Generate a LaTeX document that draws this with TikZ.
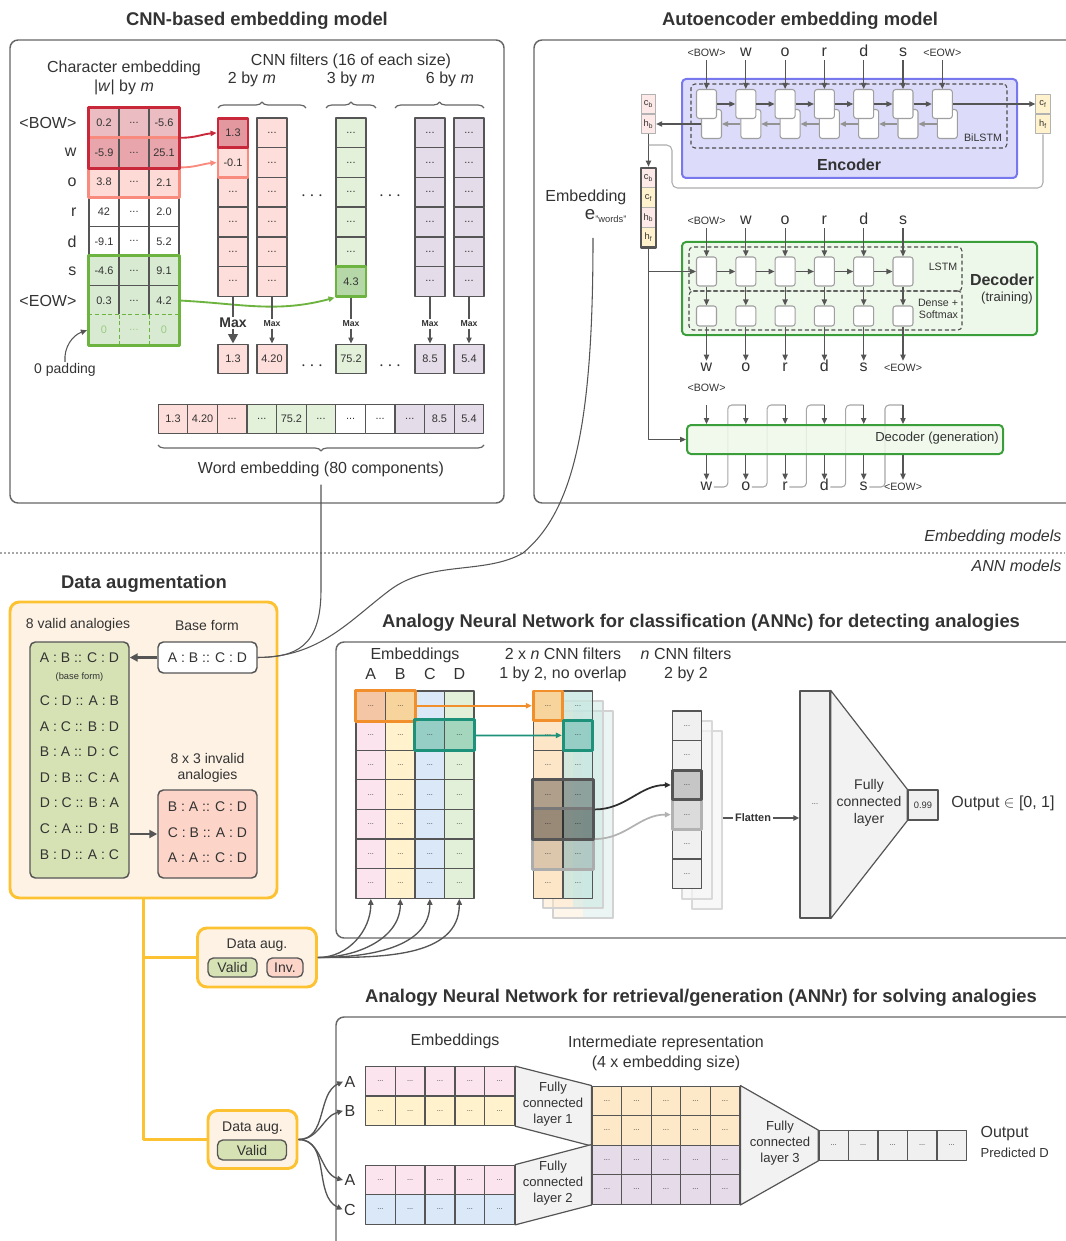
\documentclass[tikz,border=0pt]{standalone}
\usepackage{fontspec}
\setmainfont{Liberation Sans}
\usetikzlibrary{positioning,arrows.meta,decorations.pathreplacing,fit,calc}

% colours
\definecolor{textcol}{HTML}{333333}
\definecolor{linecol}{HTML}{555555}
\definecolor{panelcol}{HTML}{666666}
\definecolor{redframe}{HTML}{C9283B}
\definecolor{redfillA}{HTML}{EBBCC1}
\definecolor{redfillB}{HTML}{E8A6AC}
\definecolor{redtop}{HTML}{E3979E}
\definecolor{salmframe}{HTML}{F98B7E}
\definecolor{salmfill}{HTML}{FDDAD5}
\definecolor{greenframe}{HTML}{6DB33F}
\definecolor{greenfill}{HTML}{D9EAD3}
\definecolor{greentop}{HTML}{B6D7A8}
\definecolor{padtext}{HTML}{9BCB85}
\definecolor{cnnpink}{HTML}{FDDEDA}
\definecolor{cnngreen}{HTML}{E3F1DA}
\definecolor{cnnpurp}{HTML}{E5DCE9}
\definecolor{encfill}{HTML}{DCDCFA}
\definecolor{encframe}{HTML}{7878EE}
\definecolor{decfill}{HTML}{EEF8EA}
\definecolor{decframe}{HTML}{3A9F3A}
\definecolor{stpink}{HTML}{FDE9E7}
\definecolor{styel}{HTML}{FFF2CC}
\definecolor{augframe}{HTML}{FCC232}
\definecolor{augfill}{HTML}{FEF2E4}
\definecolor{validfill}{HTML}{D6E2B4}
\definecolor{invfill}{HTML}{FDD5C8}
\definecolor{annpink}{HTML}{FCE4EE}
\definecolor{annyel}{HTML}{FFF2CC}
\definecolor{annblue}{HTML}{DAE8F8}
\definecolor{anngreen}{HTML}{E2F0D9}
\definecolor{orframe}{HTML}{F08F2C}
\definecolor{orfillA}{HTML}{F4C6A6}
\definecolor{orfillB}{HTML}{F7D49C}
\definecolor{tealframe}{HTML}{1D917A}
\definecolor{tealfillA}{HTML}{96CEC6}
\definecolor{tealfillB}{HTML}{A3D6BD}
\definecolor{fmorange}{HTML}{FDE5C7}
\definecolor{fmteal}{HTML}{C6E6DF}
\definecolor{intorange}{HTML}{FDE8C8}
\definecolor{intpurp}{HTML}{E5DBE9}
\definecolor{fcgray}{HTML}{F2F2F2}

% font sizes
\newcommand\fTitle{\fontsize{13.8}{16}\selectfont\bfseries}
\newcommand\fBody{\fontsize{12}{14}\selectfont}
\newcommand\fMid{\fontsize{10.5}{12.5}\selectfont}
\newcommand\fLbl{\fontsize{9.8}{12}\selectfont}
\newcommand\fCell{\fontsize{8.2}{9.5}\selectfont}
\newcommand\fSml{\fontsize{8}{9.5}\selectfont}
\newcommand\fTiny{\fontsize{7}{8}\selectfont}
\newcommand\fMini{\fontsize{5.5}{6.5}\selectfont}
\newcommand\cdts{...}

\tikzset{
  txt/.style={text=textcol, inner sep=1pt, font=\fBody},
  ttl/.style={txt, font=\fTitle},
  wh/.style 2 args={minimum width=#1*0.75pt, minimum height=#2*0.75pt, inner sep=0pt},
  panel/.style={draw=panelcol, line width=1.1pt, rounded corners=6pt},
  ccell/.style={draw=linecol, line width=1pt, wh={30}{29.6}, font=\fCell, text=textcol},
  acell/.style={draw=linecol, line width=1pt, wh={29.5}{29.6}, font=\fMini, text=textcol},
  win/.style={draw=#1, line width=2.2pt, inner sep=0pt},
  conn/.style={draw=linecol, line width=0.8pt},
  arr/.style={conn, -{Triangle[length=4.5pt,width=4pt]}},
  fatarr/.style={draw=linecol, line width=1.6pt, -{Triangle[length=6pt,width=6pt]}},
  brc/.style={draw=panelcol, line width=0.9pt, decorate, decoration={brace, amplitude=4.5pt}},
  lbl/.style={text height=7pt, text depth=1.5pt},
  lstmcell/.style={draw=gray!75, fill=white, line width=0.8pt, rounded corners=2pt, wh={20}{29}},
  dnscell/.style={lstmcell, wh={20}{20}},
  stcell/.style={draw=gray!60, line width=0.6pt, wh={14.5}{19.8}, font=\fTiny, text=textcol},
  dashbox/.style={draw=gray!60!black, dash pattern=on 3pt off 2pt, line width=0.8pt, rounded corners=3pt},
  augbox/.style={draw=augframe, fill=augfill, line width=2.2pt, rounded corners=7pt},
  yline/.style={draw=augframe, line width=2.2pt},
  listbox/.style={draw=linecol, line width=1.1pt, rounded corners=4pt},
  pill/.style={draw=linecol, line width=1pt, rounded corners=4pt, font=\fMid, text=textcol},
  fcshape/.style={draw=linecol, line width=0.9pt, fill=fcgray},
}

\begin{document}
\begin{tikzpicture}[x=0.75pt,y=-0.75pt,line join=round]
\useasboundingbox (0,0) rectangle (1065,1241);

% ===== CNN-based embedding model =====
\node[ttl] (cnnttl) at (257,21) {CNN-based embedding model};
\draw[panel] (10,40) rectangle (504,503);
\node[txt] (chlab) at (124,68) {Character embedding};
\node[txt] (chdim) at (124,87) {|\textit{w}| by \textit{m}};
\node[txt] (cnnlab) at (351,61) {CNN filters (16 of each size)};
\node[txt] (sz2) at (252,79) {2 by \textit{m}};
\node[txt] (sz3) at (351,79) {3 by \textit{m}};
\node[txt] (sz6) at (450,79) {6 by \textit{m}};
\draw[brc] (218,108) -- (306,108);
\draw[brc] (326,108) -- (376,108);
\draw[brc] (395,108) -- (484,108);

% character embedding
\foreach \lab/\va/\vb/\fl [count=\rr from 0] in {<BOW>/0.2/-5.6/redfillA, w/-5.9/25.1/redfillB, o/3.8/2.1/salmfill, r/42/2.0/white, d/-9.1/5.2/white, s/-4.6/9.1/greenfill, <EOW>/0.3/4.2/greenfill}{
  \node[txt, anchor=east] (rl\rr) at (78,123+29.6*\rr) {\lab};
  \node[ccell, fill=\fl] (ch\rr-1) at (104,123+29.6*\rr) {\va};
  \node[ccell, fill=\fl] (ch\rr-2) at (134,123+29.6*\rr) {\cdts};
  \node[ccell, fill=\fl] (ch\rr-3) at (164,123+29.6*\rr) {\vb};
}
\foreach \vv/\cx [count=\ii] in {0/104, \cdts/134, 0/164}
  \node[ccell, draw=none, fill=greenfill, text=padtext] (ch7-\ii) at (\cx,330.2) {\vv};
\draw[greenfill, line width=1.4pt] (ch7-1.north west) -- (ch7-3.north east);
\draw[greenframe, line width=1pt, dash pattern=on 3pt off 2pt] (ch7-1.north west) -- (ch7-3.north east)
  (ch7-1.north east) -- (ch7-1.south east) (ch7-2.north east) -- (ch7-2.south east);
\node[win=salmframe, fit=(ch1-1)(ch2-3)] (salmwin) {};
\node[win=redframe, fit=(ch0-1)(ch1-3)] (redwin) {};
\node[win=greenframe, fit=(ch5-1)(ch7-3)] (greenwin) {};
\node[txt, font=\fMid] (padlab) at (65,370) {0 padding};
\draw[arr] (padlab.north) to[out=95,in=200] (greenwin.west |- ch7-1);

% CNN filters
\foreach \nm/\cx/\fl/\rfrom/\rto in {a/233/cnnpink/3/6, b/272/cnnpink/1/6, c/351/cnngreen/1/5, d/430/cnnpurp/1/6, e/469/cnnpurp/1/6}
  \foreach \rr in {\rfrom,...,\rto}
    \node[ccell, fill=\fl] (f\nm\rr) at (\cx,103.2+29.7*\rr) {\cdts};
\node[ccell, fill=cnnpink, draw=salmframe, line width=2.2pt] (fa2) at (233,162.6) {-0.1};
\node[ccell, fill=redtop, draw=redframe, line width=2.2pt] (fa1) at (233,132.9) {1.3};
\node[ccell, fill=greentop, draw=greenframe, line width=2.2pt] (fc6) at (351,281.4) {4.3};
\foreach \nm/\cx/\fl/\vv in {a/233/cnnpink/1.3, b/272/cnnpink/4.20, c/351/cnngreen/75.2, d/430/cnnpurp/8.5, e/469/cnnpurp/5.4}
  \node[ccell, fill=\fl] (out\nm) at (\cx,359) {\vv};
\draw[arr, draw=redframe, line width=1.4pt] (redwin.east) to[out=0,in=185] (fa1.west);
\draw[arr, draw=salmframe, line width=1.4pt] (salmwin.east) to[out=0,in=185] (fa2.west);
\draw[arr, draw=greenframe, line width=1.4pt] (greenwin.east) to[out=-3,in=195] (fc6.south west);
\foreach \cx/\cy in {312/196, 390/196, 312/366, 390/366}
  \node[txt] at (\cx,\cy) {\fontsize{15}{15}\selectfont$\cdots$};

% max pooling
\node[txt, font=\fMid\bfseries] (mxa) at (233,323) {Max};
\draw[linecol, line width=2.2pt] (fa6.south) -- (mxa.north);
\draw[draw=linecol, line width=2.2pt, -{Triangle[length=7pt,width=7pt]}] (mxa.south) -- (outa.north);
\foreach \nm/\cx in {b/272, c/351, d/430, e/469}{
  \node[txt, font=\fontsize{6.5}{7}\selectfont\bfseries] (mx\nm) at (\cx,324) {Max};
  \draw[conn] (f\nm6.south) -- (mx\nm.north);
  \draw[arr] (mx\nm.south) -- (out\nm.north);
}

% word embedding
\foreach \vv/\fl [count=\ii from 0] in {1.3/cnnpink, 4.20/cnnpink, \cdts/cnnpink, \cdts/cnngreen, 75.2/cnngreen, \cdts/cnngreen, \cdts/white, \cdts/white, \cdts/cnnpurp, 8.5/cnnpurp, 5.4/cnnpurp}
  \node[ccell, fill=\fl, wh={29.6}{29.6}] (we\ii) at (173+29.6*\ii,419) {\vv};
\draw[brc] (484,445) -- (158,445);
\node[txt] (wemb) at (321,469) {Word embedding (80 components)};

% ===== Autoencoder embedding model =====
\node[ttl] (aettl) at (800,21) {Autoencoder embedding model};
\draw[panel] (534,40) rectangle (1080,503);
\node[draw=encframe, fill=encfill, line width=1.5pt, rounded corners=3pt, wh={335}{99}] (enc) at (849.5,128.5) {};
\node[dashbox, wh={316}{64}] (bilstm) at (849,116) {};
\node[txt, font=\fBody\bfseries] (enclab) at (849,165) {Encoder};
\node[txt, font=\fSml] (bilab) at (983,138) {BiLSTM};
\foreach \lab/\fnt [count=\ii from 0] in {<BOW>/\fSml, w/\fBody, o/\fBody, r/\fBody, d/\fBody, s/\fBody, <EOW>/\fSml}{
  \node[txt, font=\fnt, lbl] (ein\ii) at (706.5+39.3*\ii,53) {\lab};
  \node[lstmcell] (eb\ii) at (711.5+39.3*\ii,124) {};
  \node[lstmcell] (ef\ii) at (706.5+39.3*\ii,104) {};
  \draw[arr] (ein\ii.south) -- (ef\ii.north);
}
\foreach \ii [evaluate=\ii as \jj using int(\ii+1)] in {0,...,5}{
  \draw[arr] (ef\ii.east) -- (ef\jj.west);
  \draw[arr, draw=gray!85] (eb\jj.west) -- (eb\ii.east);
}
\node[stcell, fill=stpink] (cbL) at (648.5,104) {c\textsubscript{b}};
\node[stcell, fill=stpink] (hbL) at (648.5,124) {h\textsubscript{b}};
\node[stcell, fill=styel] (cfR) at (1043,104) {c\textsubscript{f}};
\node[stcell, fill=styel] (hfR) at (1043,124) {h\textsubscript{f}};
\draw[arr] (eb0.west) -- (hbL.east);
\draw[arr] (ef6.east) -- (cfR.west);

% concatenated embedding
\foreach \tx/\fl [count=\ii from 0] in {c\textsubscript{b}/stpink, c\textsubscript{f}/styel, h\textsubscript{b}/stpink, h\textsubscript{f}/styel}
  \node[stcell, fill=\fl] (em\ii) at (648.5,178+19.75*\ii) {\tx};
\node[draw=linecol, line width=1.6pt, inner sep=0pt, fit=(em0)(em3)] (embv) {};
\draw[arr] (hbL.south) -- (embv.north);
\draw[conn, draw=gray!65, rounded corners=4pt] (hfR.south) |- (672,188) |- (648.5,145);
\node[txt, anchor=east] (emblab) at (628,197) {Embedding};
\node[txt, anchor=east] (ewlab) at (628,216) {{\fontsize{14}{16}\selectfont e}\raisebox{-2.5pt}{\fTiny"words"}};
\coordinate (ewfoot) at (593,238);

% decoder (training)
\node[draw=decframe, fill=decfill, line width=1.5pt, rounded corners=3pt, wh={355}{93}] (dec) at (859.5,288.5) {};
\node[dashbox, wh={273}{44}] (lstmbox) at (825.5,269) {};
\node[dashbox, wh={273}{39}] (densebox) at (825.5,310.5) {};
\node[txt, font=\fBody\bfseries] (declab) at (1002,280) {Decoder};
\node[txt, font=\fLbl] (trlab) at (1007,298) {(training)};
\node[txt, font=\fSml] (lstmlab) at (943,267) {LSTM};
\node[txt, font=\fSml, align=right] (dslab) at (938,309) {Dense +\\Softmax};
\foreach \lin/\fin/\lout/\fout [count=\ii from 0] in {<BOW>/\fSml/w/\fBody, w/\fBody/o/\fBody, o/\fBody/r/\fBody, r/\fBody/d/\fBody, d/\fBody/s/\fBody, s/\fBody/<EOW>/\fSml}{
  \node[txt, font=\fin, lbl] (din\ii) at (706.5+39.3*\ii,221) {\lin};
  \node[lstmcell] (dc\ii) at (706.5+39.3*\ii,271.5) {};
  \node[dnscell] (dd\ii) at (706.5+39.3*\ii,316) {};
  \node[txt, font=\fout, lbl] (dout\ii) at (706.5+39.3*\ii,368) {\lout};
  \draw[arr] (din\ii.south) -- (dc\ii.north);
  \draw[arr] (dc\ii.south) -- (dd\ii.north);
  \draw[arr] (dd\ii.south) -- (dout\ii.north);
}
\foreach \ii [evaluate=\ii as \jj using int(\ii+1)] in {0,...,4}
  \draw[arr] (dc\ii.east) -- (dc\jj.west);

% decoder (generation)
\node[txt, font=\fSml, lbl] (gbow) at (706.5,388) {<BOW>};
\foreach \ii in {0,...,5}
  \coordinate (gi\ii) at (706.5+39.3*\ii,405);
\foreach \lout/\fout [count=\ii from 0] in {w/\fBody, o/\fBody, r/\fBody, d/\fBody, s/\fBody, <EOW>/\fSml}
  \node[txt, font=\fout, lbl] (gout\ii) at (706.5+39.3*\ii,487) {\lout};
\foreach \ii [evaluate=\ii as \jj using int(\ii+1)] in {0,...,4}
  \draw[conn, draw=gray!70, rounded corners=3pt] (gout\ii.east) -| ([xshift=-13.5pt]gi\jj) -- (gi\jj);
\node[draw=decframe, fill=decfill, fill opacity=0.85, line width=1.5pt, rounded corners=3pt, wh={316}{29}] (gen) at (845,439.5) {};
\node[txt, font=\fLbl] (genlab) at (937,438) {Decoder (generation)};
\foreach \ii in {0,...,5}{
  \draw[arr] (gi\ii) -- (gi\ii |- gen.north);
  \draw[arr] (gi\ii |- gen.south) -- (gout\ii.north);
}
\draw[arr] (embv.south) |- (dc0.west);
\draw[arr] (embv.south) |- (gen.west);

% separator
\draw[gray!70, line width=1.2pt, dash pattern=on 1.2pt off 1.8pt] (0,553) -- (1065,553);
\node[txt, font=\fBody\itshape, anchor=east] (emcap) at (1063,537) {Embedding models};
\node[txt, font=\fBody\itshape, anchor=east] (anncap) at (1063,566) {ANN models};

% ===== Data augmentation =====
\node[ttl] (dattl) at (144,584) {Data augmentation};
\node[augbox, wh={267}{296}] (aug) at (143.5,750) {};
\node[txt, font=\fMid] (vlab) at (78,625) {8 valid analogies};
\node[txt, font=\fMid] (blab) at (207,625) {Base form};
\node[listbox, fill=validfill, wh={99}{236}] (vlist) at (79.5,760) {};
\node[listbox, fill=white, wh={99}{31}, font=\fMid, text=textcol] (base) at (207.5,657.5) {A : B :: C : D};
\foreach \tx/\yy [count=\ii] in {A : B :: C : D/658, C : D :: A : B/701, A : C :: B : D/727, B : A :: D : C/752, D : B :: C : A/778, D : C :: B : A/803, C : A :: D : B/829, B : D :: A : C/855}
  \node[txt, font=\fMid] (val\ii) at (79.5,\yy) {\tx};
\node[txt, font=\fTiny] (bfnote) at (79.5,677) {(base form)};
\node[txt, font=\fMid, align=center] (ilab) at (207.5,768) {8 x 3 invalid\\analogies};
\node[listbox, fill=invfill, wh={99}{88}] (inv) at (207.5,834) {};
\foreach \tx/\yy [count=\ii] in {B : A :: C : D/807, C : B :: A : D/833, A : A :: C : D/858}
  \node[txt, font=\fMid] (inv\ii) at (207.5,\yy) {\tx};
\draw[fatarr] (base.west) -- (base.west -| vlist.east);
\draw[fatarr] (inv.west -| vlist.east) -- (inv.west);

\node[augbox, wh={119}{59}] (daug1) at (257,957.5) {};
\node[txt, font=\fMid] (da1lab) at (257,945) {Data aug.};
\node[pill, fill=validfill, wh={49}{19}] (va1) at (232.5,967.5) {Valid};
\node[pill, fill=invfill, wh={36}{19}] (in1) at (285,967.5) {Inv.};
\node[augbox, wh={89}{58}] (daug2) at (252.5,1139.5) {};
\node[txt, font=\fMid] (da2lab) at (252.5,1128) {Data aug.};
\node[pill, fill=validfill, wh={69}{20}] (va2) at (252,1150) {Valid};
\draw[yline] (aug.south) |- (daug1.west);
\draw[yline] (aug.south) |- (daug2.west);

% links from the embedding models
\draw[conn] ([yshift=-5pt]wemb.south) -- (321,590) .. controls (321,648) and (295,657) .. (base.east);
\draw[conn] (ewfoot) .. controls (593,420) and (575,510) .. (523,553)
  .. controls (485,575) and (430,560) .. (390,590)
  .. controls (350,620) and (320,657) .. (base.east);

% ===== ANNc =====
\node[ttl] (anncttl) at (701,623) {Analogy Neural Network for classification (ANNc) for detecting analogies};
\draw[panel] (336,642) rectangle (1080,938);
\node[txt] (cemb) at (415,655) {Embeddings};
\foreach \tx/\fl [count=\cc from 0] in {A/annpink, B/annyel, C/annblue, D/anngreen}{
  \node[txt] (col\tx) at (370.8+29.5*\cc,674) {\tx};
  \foreach \rr in {0,...,6}
    \node[acell, fill=\fl] (m\cc-\rr) at (370.8+29.5*\cc,705.8+29.6*\rr) {\cdts};
}
\node[acell, fill=orfillA] (o0) at (m0-0) {};
\node[acell, fill=orfillB] (o1) at (m1-0) {};
\node[acell, fill=tealfillA] (t0) at (m2-1) {};
\node[acell, fill=tealfillB] (t1) at (m3-1) {};
\foreach \nd in {o0,o1,t0,t1}
  \node[txt, font=\fMini] at (\nd) {\cdts};
\node[win=orframe, fit=(o0)(o1)] (orwin) {};
\node[win=tealframe, fit=(t0)(t1)] (tealwin) {};

% 2 x n feature maps
\node[txt, align=center] (fmlab) at (563,665) {2 x \textit{n} CNN filters\\1 by 2, no overlap};
\foreach \dd/\op in {20/0.35, 10/0.5}{
  \fill[fmorange, opacity=\op] (533+\dd,691+\dd) rectangle (563+\dd,898+\dd);
  \fill[fmteal, opacity=\op] (563+\dd,691+\dd) rectangle (593+\dd,898+\dd);
  \draw[gray!35, line width=0.8pt] (533+\dd,691+\dd) rectangle (593+\dd,898+\dd);
}
\foreach \rr in {1,...,6}
  \node[acell, fill=fmorange] (fl\rr) at (548,705.8+29.6*\rr) {\cdts};
\foreach \rr in {0,2,3,4,5,6}
  \node[acell, fill=fmteal, fill opacity=0.75, text opacity=1] (fr\rr) at (578,705.8+29.6*\rr) {\cdts};
\node[acell, fill=orfillB, draw=orframe, line width=2.2pt] (fl0) at (548,705.8) {\cdts};
\node[acell, fill=tealfillA, draw=tealframe, line width=2.2pt] (fr1) at (578,735.4) {\cdts};
\node[win=gray!65, fit=(fl4)(fr5), fill=black, fill opacity=0.13] (lwin) {};
\node[win=linecol, fit=(fl3)(fr4), fill=black, fill opacity=0.3] (dwin) {};
\draw[arr, draw=orframe, line width=1.3pt] (orwin.east) -- (fl0.west);
\draw[arr, draw=tealframe, line width=1.3pt] (tealwin.east) -- (fr1.west);

% n feature maps
\node[txt, align=center] (nlab) at (686,665) {\textit{n} CNN filters\\2 by 2};
\foreach \dd in {20,10}
  \filldraw[fill=gray!8, draw=gray!30, fill opacity=0.7, line width=0.8pt] (672+\dd,711+\dd) rectangle (702+\dd,889+\dd);
\foreach \rr in {0,1,4,5}
  \node[acell, fill=gray!12] (sc\rr) at (687,725.8+29.6*\rr) {\cdts};
\node[acell, fill=gray!28, draw=gray!60, line width=2.2pt] (sc3) at (687,814.6) {\cdts};
\node[acell, fill=gray!45, draw=linecol, line width=2.2pt] (sc2) at (687,785) {\cdts};
\draw[arr, draw=gray!35!black, line width=1.3pt] (dwin.east) to[out=0,in=180] (sc2.west);
\draw[arr, draw=gray!60, line width=1.3pt] (lwin.east) to[out=0,in=180] (sc3.west);
\coordinate (flatstart) at (723,818);

% flatten and fully connected layer
\node[acell, fill=gray!12, wh={30}{227}] (fcr) at (815,804.5) {\cdts};
\node[acell, fill=gray!12, wh={30}{30}, font=\fTiny] (o99) at (923,805) {0.99};
\draw[fcshape] (fcr.north east) -- (o99.north west) -- (o99.south west) -- (fcr.south east) -- cycle;
\node[txt, font=\fMid, align=center] (fclab) at (869,803) {Fully\\connected\\layer};
\node[txt] (coutlab) at (1003,803) {Output $\in$ [0, 1]};
\node[txt, font=\fCell\bfseries] (flat) at (753,818) {Flatten};
\draw[conn, line width=1.2pt] (flatstart) -- (flat.west);
\draw[arr, line width=1.2pt] (flat.east) -- (flat.east -| fcr.west);
\foreach \cc in {0,...,3}
  \draw[arr, line width=1pt] (daug1.east) to[out=0,in=-90] (m\cc-6.south);

% ===== ANNr =====
\node[ttl] (annrttl) at (701,998) {Analogy Neural Network for retrieval/generation (ANNr) for solving analogies};
\draw[panel] (336,1017) rectangle (1080,1270);
\node[txt] (remb) at (455,1041) {Embeddings};
\node[txt, align=center, font=\fontsize{12}{15}\selectfont] (irep) at (666,1053) {Intermediate representation\\(4 x embedding size)};
\foreach \tx/\nm/\yy in {A/la/1081.5, B/lb/1110.8, A/lc/1180, C/ld/1209.5}
  \node[txt] (\nm) at (350,\yy) {\tx};
\foreach \fl/\yy/\nm in {annpink/1081.5/ra, annyel/1110.8/rb, annpink/1180/rc, annblue/1209.5/rd}
  \foreach \ii in {0,...,4}
    \node[acell, fill=\fl, wh={29.8}{29.4}] (\nm\ii) at (380.4+29.8*\ii,\yy) {\cdts};
\foreach \fl/\yy/\nm in {intorange/1101/ia, intorange/1130.5/ib, intpurp/1160/ic, intpurp/1189.5/id}
  \foreach \ii in {0,...,4}
    \node[acell, fill=\fl] (\nm\ii) at (607+29.5*\ii,\yy) {\cdts};
\foreach \ii in {0,...,4}
  \node[acell, fill=gray!12] (ro\ii) at (833.6+29.5*\ii,1145.5) {\cdts};
\draw[fcshape] (ra4.north east) -- (ia0.north west) -- (ib0.south west) -- (rb4.south east) -- cycle;
\draw[fcshape] (rc4.north east) -- (ic0.north west) -- (id0.south west) -- (rd4.south east) -- cycle;
\draw[fcshape] (ia4.north east) -- (ro0.north west) -- (ro0.south west) -- (id4.south east) -- cycle;
\node[txt, font=\fLbl, align=center] (fc1lab) at (553,1104) {Fully\\connected\\layer 1};
\node[txt, font=\fLbl, align=center] (fc2lab) at (553,1183) {Fully\\connected\\layer 2};
\node[txt, font=\fLbl, align=center] (fc3lab) at (780,1143) {Fully\\connected\\layer 3};
\node[txt, anchor=west] (routlab) at (979,1134) {Output};
\node[txt, font=\fLbl, anchor=west] (rpred) at (979,1153) {Predicted D};
\draw[arr, line width=1pt] (daug2.east) to[out=0,in=205] (la.west);
\draw[arr, line width=1pt] (daug2.east) to[out=0,in=195] (lb.west);
\draw[arr, line width=1pt] (daug2.east) to[out=0,in=165] (lc.west);
\draw[arr, line width=1pt] (daug2.east) to[out=0,in=155] (ld.west);
\end{tikzpicture}
\end{document}
